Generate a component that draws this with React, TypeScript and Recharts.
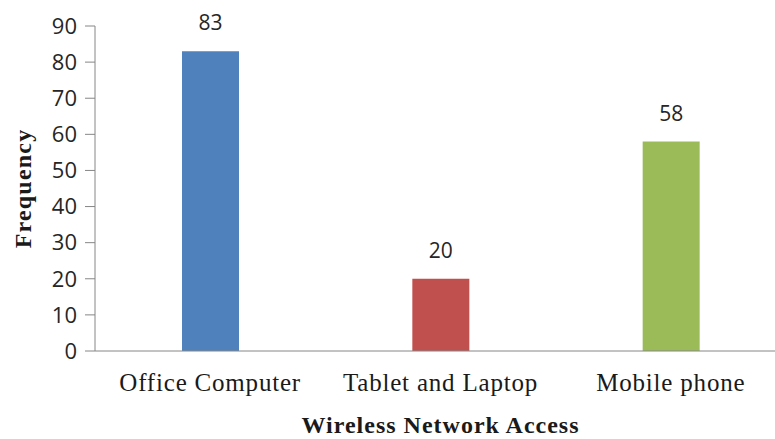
import { BarChart, Bar, XAxis, YAxis, Cell, LabelList } from "recharts";

const categories = ["Office Computer", "Tablet and Laptop", "Mobile phone"];
const frequency = [83, 20, 58];
const barColors = ["#4F81BD", "#C0504D", "#9BBB59"];
const yTicks = [0, 10, 20, 30, 40, 50, 60, 70, 80, 90];

const data = categories.map((name, i) => ({ name, value: frequency[i] }));

const serif = "'Liberation Serif', 'Times New Roman', serif";
const sans = "'Open Sans', Lato, sans-serif";

interface TickProps {
  x?: number;
  y?: number;
  payload?: { value: string };
}

const CategoryTick = ({ x, y, payload }: TickProps) => (
  <text
    x={x}
    y={(y ?? 0) + 32}
    textAnchor="middle"
    fontFamily={serif}
    fontSize={25}
    letterSpacing={0.8}
    fill="#1a1a1a"
  >
    {payload?.value}
  </text>
);

export default function App() {
  return (
    <div
      style={{
        position: "absolute",
        left: 0,
        top: 0,
        width: 775,
        height: 439,
        overflow: "hidden",
        background: "#fff",
      }}
    >
      <BarChart
        width={800}
        height={439}
        data={data}
        margin={{ top: 26, right: 14, left: 0, bottom: 0 }}
      >
        <XAxis
          dataKey="name"
          height={88}
          stroke="#868686"
          tickLine={false}
          tick={<CategoryTick />}
          interval={0}
          label={{
            value: "Wireless Network Access",
            position: "insideBottom",
            offset: 6,
            style: {
              fontFamily: serif,
              fontSize: 24,
              fontWeight: "bold",
              letterSpacing: 1,
              fill: "#1a1a1a",
            },
          }}
        />
        <YAxis
          width={95}
          domain={[0, 90]}
          ticks={yTicks}
          interval={0}
          stroke="#868686"
          tickSize={10}
          tickMargin={8}
          tick={{ fontFamily: sans, fontSize: 22, fill: "#262626" }}
          label={{
            value: "Frequency",
            angle: -90,
            position: "insideLeft",
            offset: 22,
            style: {
              textAnchor: "middle",
              fontFamily: serif,
              fontSize: 24,
              fontWeight: "bold",
              letterSpacing: 1.2,
              fill: "#1a1a1a",
            },
          }}
        />
        <Bar dataKey="value" barSize={57} isAnimationActive={false}>
          {data.map((d, i) => (
            <Cell key={d.name} fill={barColors[i]} />
          ))}
          <LabelList
            dataKey="value"
            position="top"
            offset={21}
            style={{ fontFamily: sans, fontSize: 21, fill: "#262626" }}
          />
        </Bar>
      </BarChart>
    </div>
  );
}
